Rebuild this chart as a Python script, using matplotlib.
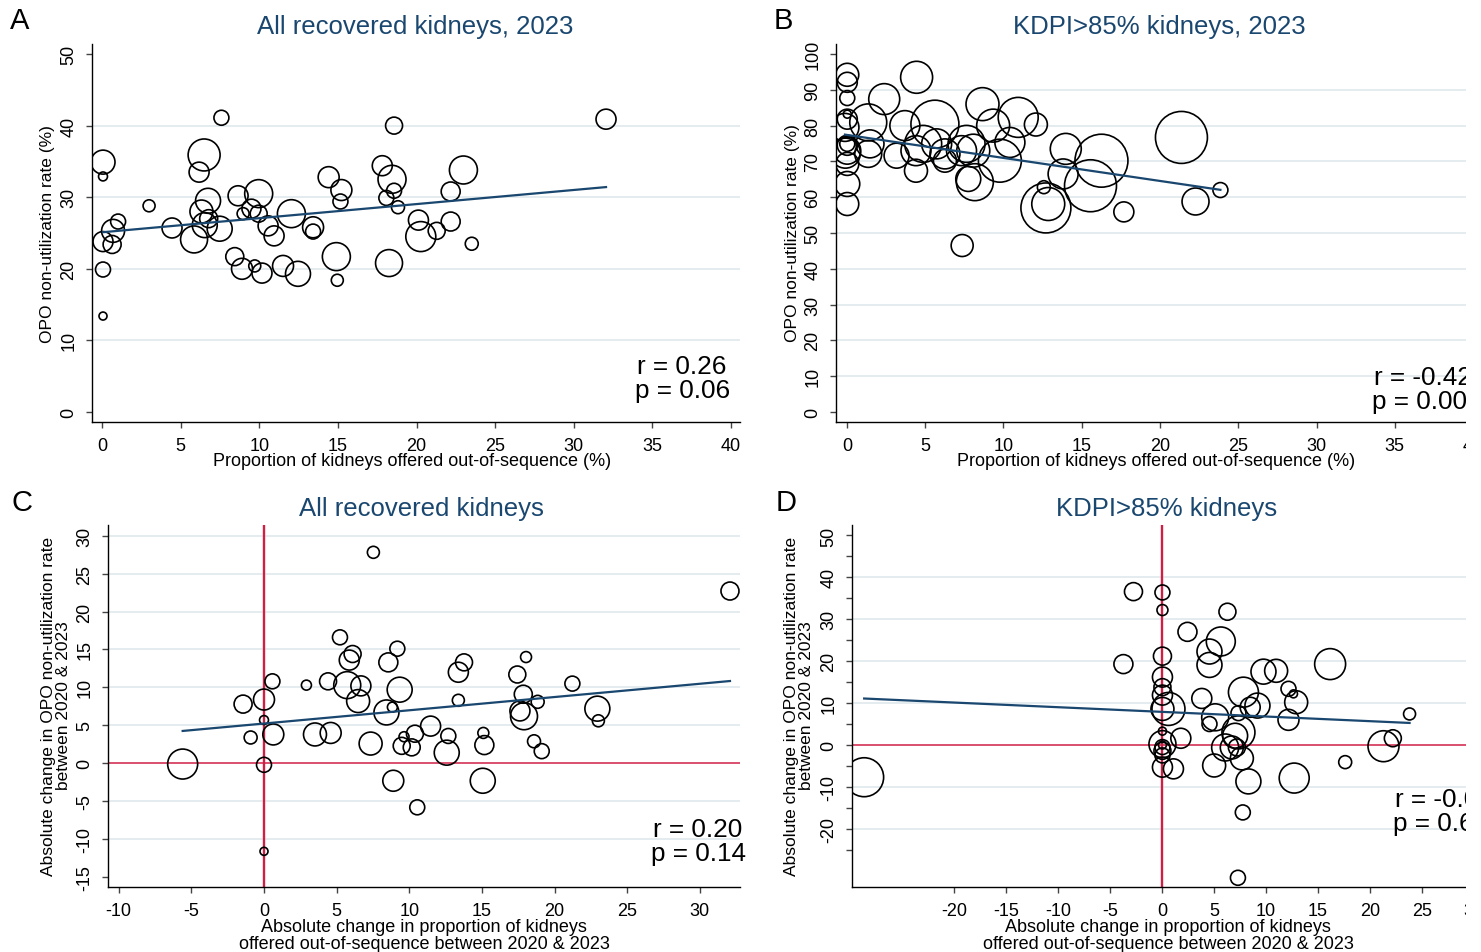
import numpy as np
import matplotlib
matplotlib.use("Agg")
import matplotlib.pyplot as plt
from matplotlib.patches import Rectangle

plt.rcParams['font.family'] = ['Liberation Sans', 'DejaVu Sans']
plt.rcParams['axes.unicode_minus'] = False

W, H = 1481, 953
NAVY = '#1a476f'
RED = '#cf1f45'
GRID = '#e3ebee'

# ---- panel A: all recovered kidneys, 2023 ----
a_x = [0.06, 0.06, 1.02, 0.70, 0.06, 0.64, 0.06, 0.06, 2.99, 4.45, 5.85, 6.49, 6.17, 6.74,
       6.32, 6.78, 6.53, 7.48, 7.59, 8.65, 8.97, 9.5, 9.96, 9.96, 10.56, 10.94, 12.04, 13.42,
       13.42, 8.44, 8.9, 9.71, 10.17, 11.51, 12.46, 14.9, 14.96, 14.41, 15.22, 15.16, 17.82,
       18.44, 18.57, 18.57, 18.08, 18.82, 18.25, 32.05, 22.98, 22.17, 20.12, 20.27, 21.28,
       22.17, 23.51]
a_y = [34.9, 32.9, 26.6, 25.3, 23.8, 23.4, 19.9, 13.4, 28.8, 25.7, 24.1, 35.9, 33.5, 29.5,
       28.0, 27.0, 26.1, 25.6, 41.1, 30.2, 27.7, 28.4, 30.5, 27.7, 26.0, 24.6, 27.7, 25.8,
       25.2, 21.7, 20.0, 20.4, 19.4, 20.4, 19.3, 21.7, 18.4, 32.8, 31.0, 29.4, 34.4,
       32.5, 40.0, 30.9, 29.9, 28.6, 20.8, 40.9, 33.8, 30.8, 26.8, 24.5, 25.3,
       26.6, 23.5]
a_n = [144, 20, 56, 132, 100, 81, 56, 16, 36, 100, 182, 256, 100, 156,
       132, 81, 156, 156, 56, 100, 36, 90, 196, 72, 100, 100, 196, 110,
       56, 81, 110, 36, 100, 110, 156, 196, 36, 110, 110, 56, 100,
       196, 72, 56, 56, 42, 182, 100, 196, 90, 100, 225, 72,
       90, 42]
a_fit = (25.1, 0.197)
a_r, a_p = "r = 0.26", "p = 0.06"

# ---- panel B: KDPI>85% kidneys, 2023 ----
b_x = [0.02, 0.02, 0.02, 0.02, 0.02, 1.36, -0.13, 0.02, 0.02, 0.02, -0.1, 0.02, 0.02, 0.02,
       1.47, 1.36, 2.38, 4.45, 3.7, 3.17, 4.41, 4.41, 5.62, 4.87, 5.73, 6.26, 6.26, 7.32,
       7.64, 8.07, 7.75, 8.17, 8.66, 9.34, 9.77, 10.41, 10.94, 12.07, 7.36, 12.58, 12.71,
       12.86, 13.98, 13.81, 15.56, 16.26, 17.69, 21.37, 22.27, 23.86]
b_y = [94.2, 92.1, 87.7, 83.2, 81.8, 80.9, 79.5, 74.9, 74.5, 73.0, 72.3, 69.3, 63.7, 58.1,
       74.9, 72.1, 87.4, 93.5, 80.0, 71.6, 73.0, 67.4, 80.4, 74.9, 74.9, 72.1, 70.2, 73.0,
       74.9, 73.0, 65.1, 64.2, 86.0, 80.0, 70.2, 75.3, 82.3, 80.3, 46.5, 62.8, 57.0,
       58.1, 73.5, 66.5, 63.2, 70.2, 55.9, 76.7, 58.8, 62.0]
b_n = [132, 100, 56, 16, 100, 342, 196, 56, 100, 182, 225, 132, 156, 132,
       196, 182, 240, 256, 225, 156, 225, 132, 576, 342, 225, 225, 132, 225,
       342, 272, 156, 342, 272, 272, 462, 225, 400, 132, 121, 42, 625,
       272, 240, 225, 676, 702, 100, 676, 182, 56]
b_fit = (77.4, -0.643)
b_r, b_p = "r = -0.42", "p = 0.00"

# ---- panel C: change 2020-2023, all recovered kidneys ----
c_x = [7.53, 5.23, 6.1, 5.87, 9.18, 8.56, 0.58, 2.92, 4.41, 5.73, 6.67, 6.48, 9.34, 8.43,
       8.84, -1.44, 0.0, 0.0, -0.92, 0.64, 3.51, 4.59, 7.34, -5.6, 0.0, 8.9, 10.55, 0.0,
       11.47, 10.39, 9.64, 9.48, 10.17, 12.69, 12.58, 32.08, 13.77, 13.38, 18.04, 17.44,
       21.23, 13.38, 17.85, 18.84, 17.62, 17.9, 22.95, 23.02, 15.1, 15.17, 18.59, 19.12, 15.06]
c_y = [27.8, 16.6, 14.4, 13.6, 15.1, 13.3, 10.8, 10.3, 10.8, 10.3, 10.2, 8.2, 9.7, 6.7,
       7.4, 7.8, 8.4, 5.7, 3.4, 3.8, 3.8, 4.0, 2.6, -0.1, -0.2, -2.3, -5.8, -11.6,
       4.9, 3.9, 3.5, 2.3, 2.1, 3.6, 1.4, 22.7, 13.3, 12.0, 14.0, 11.7,
       10.5, 8.3, 9.1, 8.1, 6.9, 6.2, 7.2, 5.6, 4.0, 2.4, 2.9, 1.6, -2.3]
c_n = [36, 56, 72, 100, 56, 90, 56, 25, 72, 182, 100, 132, 156, 156,
       25, 81, 110, 20, 42, 110, 132, 110, 132, 225, 56, 110, 56, 16,
       100, 72, 25, 72, 72, 56, 156, 81, 72, 100, 30, 72,
       56, 36, 81, 42, 100, 182, 156, 36, 30, 90, 42, 56, 156]
c_fit = (5.24, 0.1746)
c_r, c_p = "r = 0.20", "p = 0.14"

# ---- panel D: change 2020-2023, KDPI>85% kidneys ----
d_x = [-28.7, -2.76, 0.03, 0.03, -3.73, 0.03, 0.03, 0.03, 0.03, 0.61, 0.03, 0.03, 0.03, 0.03,
       0.03, 0.03, 0.03, 0.03, 1.09, 6.29, 2.44, 5.65, 4.56, 4.56, 16.18, 9.76, 10.98, 12.17,
       12.65, 12.91, 3.82, 7.83, 9.18, 8.48, 7.35, 12.17, 5.11, 4.56, 23.83, 7.35, 7.03,
       6.07, 6.71, 7.2, 7.68, 5.01, 8.31, 12.72, 17.63, 21.32, 22.22, 7.77, 7.3, 1.8]
d_y = [-7.7, 36.6, 36.4, 32.2, 19.3, 21.2, 16.2, 13.8, 11.9, 8.6, 8.6, 3.3, 0.2, -0.5,
       0.0, -1.4, -2.5, -5.3, -5.7, 31.8, 27.0, 24.7, 22.3, 19.1, 19.3, 17.5, 17.7, 13.4,
       12.2, 10.2, 11.1, 12.6, 9.4, 9.0, 7.6, 6.0, 6.6, 5.0, 7.4, 3.0, 2.2,
       -0.6, -0.6, -0.6, -3.2, -4.9, -8.7, -7.9, -4.1, -0.3, 1.6, -16.1, -31.7, 1.6]
d_n = [380, 81, 56, 30, 90, 81, 100, 72, 100, 272, 132, 16, 182, 56,
       16, 72, 56, 100, 100, 72, 90, 210, 156, 156, 240, 156, 132, 56,
       16, 132, 100, 225, 156, 100, 56, 110, 182, 56, 36, 272, 156,
       182, 132, 72, 132, 132, 156, 225, 42, 240, 72, 56, 56, 100]
d_fit = (7.9, -0.111)
d_r, d_p = "r = -0.0", "p = 0.6"

ylab_top = "OPO non-utilization rate (%)"
xlab_top = "Proportion of kidneys offered out-of-sequence (%)"
ylab_bot = "Absolute change in OPO non-utilization rate\nbetween 2020 & 2023"
xlab_bot = "Absolute change in proportion of kidneys\noffered out-of-sequence between 2020 & 2023"


def fx(X):
    return X / W


def fy(Y):
    return 1 - Y / H


fig = plt.figure(figsize=(W / 100, H / 100), dpi=100)


def panel(box, x, y, n, fit, xlim, ylim, xticks, yticks, grid, ref=False, yminor=None):
    l, t, r, b = box
    ax = fig.add_axes([fx(l), fy(b), (r - l) / W, (b - t) / H])
    ax.set_xlim(*xlim)
    ax.set_ylim(*ylim)
    for g in grid:
        ax.axhline(g, color=GRID, lw=1.3, zorder=0)
    if ref:
        ax.axhline(0, color=RED, lw=1.1, zorder=1)
        ax.axvline(0, color=RED, lw=1.7, zorder=1)
    x = np.array(x)
    y = np.array(y)
    s = np.array(n) * 2.07
    ax.scatter(x, y, s=s, facecolors='none', edgecolors='black', linewidths=1.2, zorder=3)
    xs = np.array([x.min(), x.max()])
    ax.plot(xs, fit[0] + fit[1] * xs, color=NAVY, lw=1.6, zorder=4)
    ax.set_xticks(xticks)
    ax.set_yticks(yticks)
    if yminor is not None:
        ax.set_yticks(yminor, minor=True)
    for sp in ['top', 'right']:
        ax.spines[sp].set_visible(False)
    for sp in ['left', 'bottom']:
        ax.spines[sp].set_color('black')
        ax.spines[sp].set_linewidth(1.0)
    ax.tick_params(axis='both', which='both', direction='out', length=4.5, width=1,
                   color='#444444', labelsize=13, pad=6)
    ax.tick_params(axis='y', labelrotation=90)
    for lab in ax.get_yticklabels():
        lab.set_va('center')
    ax.patch.set_alpha(0)
    return ax


panel((92, 45, 740, 423), a_x, a_y, a_n, a_fit, (-0.64, 40.57), (-1.4, 51.4),
      range(0, 41, 5), range(0, 51, 10), range(10, 41, 10))
panel((836, 45, 1484, 423), b_x, b_y, b_n, b_fit, (-0.70, 40.7), (-2.8, 102.8),
      range(0, 41, 5), range(0, 101, 10), range(10, 91, 10))
panel((108, 526, 740, 888), c_x, c_y, c_n, c_fit, (-10.74, 32.77), (-16.3, 31.4),
      range(-10, 31, 5), range(-15, 31, 5), [-10, -5, 5, 10, 15, 20, 25, 30], ref=True)
panel((852, 526, 1484, 888), d_x, d_y, d_n, d_fit, (-29.87, 31.0), (-33.9, 52.5),
      range(-20, 31, 5), range(-20, 51, 10), [-20, -10, 10, 20, 30, 40], ref=True,
      yminor=range(-25, 50, 10))

# titles, panel letters
for X, Y, txt in [(415, 27, "All recovered kidneys, 2023"), (1159, 27, "KDPI>85% kidneys, 2023"),
                  (421, 509, "All recovered kidneys"), (1167, 509, "KDPI>85% kidneys")]:
    fig.text(fx(X), fy(Y), txt, color=NAVY, fontsize=18.5, ha='center', va='center')
for X, Y, txt in [(20, 21, "A"), (783, 21, "B"), (22, 503, "C"), (786, 503, "D")]:
    fig.text(fx(X), fy(Y), txt, fontsize=21, ha='center', va='center',
             family=['Liberation Sans Narrow', 'Liberation Sans'])

# axis titles
for X, Y, txt in [(412, 462, xlab_top), (1156, 462, xlab_top)]:
    fig.text(fx(X), fy(Y), txt, fontsize=13, ha='center', va='center')
for X, Y, txt in [(424, 936, xlab_bot), (1168, 936, xlab_bot)]:
    fig.text(fx(X), fy(Y), txt, fontsize=13, ha='center', va='center', linespacing=0.95)
for X, Y, txt in [(48, 234, ylab_top), (793, 233, ylab_top)]:
    fig.text(fx(X), fy(Y), txt, fontsize=12.5, ha='center', va='center', rotation=90)
for X, Y, txt in [(56, 706, ylab_bot), (799, 706, ylab_bot)]:
    fig.text(fx(X), fy(Y), txt, fontsize=12.5, ha='center', va='center', rotation=90,
             linespacing=0.95)

# correlation annotations
for X, Y, rt, pt in [(637, 367, a_r, a_p), (1374, 378, b_r, b_p),
                     (653, 830, c_r, c_p), (1395, 800, d_r, d_p)]:
    fig.text(fx(X), fy(Y), rt, fontsize=18.8, ha='left', va='center')
    fig.text(fx(X - 2), fy(Y + 24), pt, fontsize=18.8, ha='left', va='center')

# right border of the original crop
fig.add_artist(Rectangle((fx(1466), 0), 1, 1, transform=fig.transFigure,
                         facecolor='white', edgecolor='none', zorder=20))

fig.savefig("out.png", dpi=100, facecolor='white')
